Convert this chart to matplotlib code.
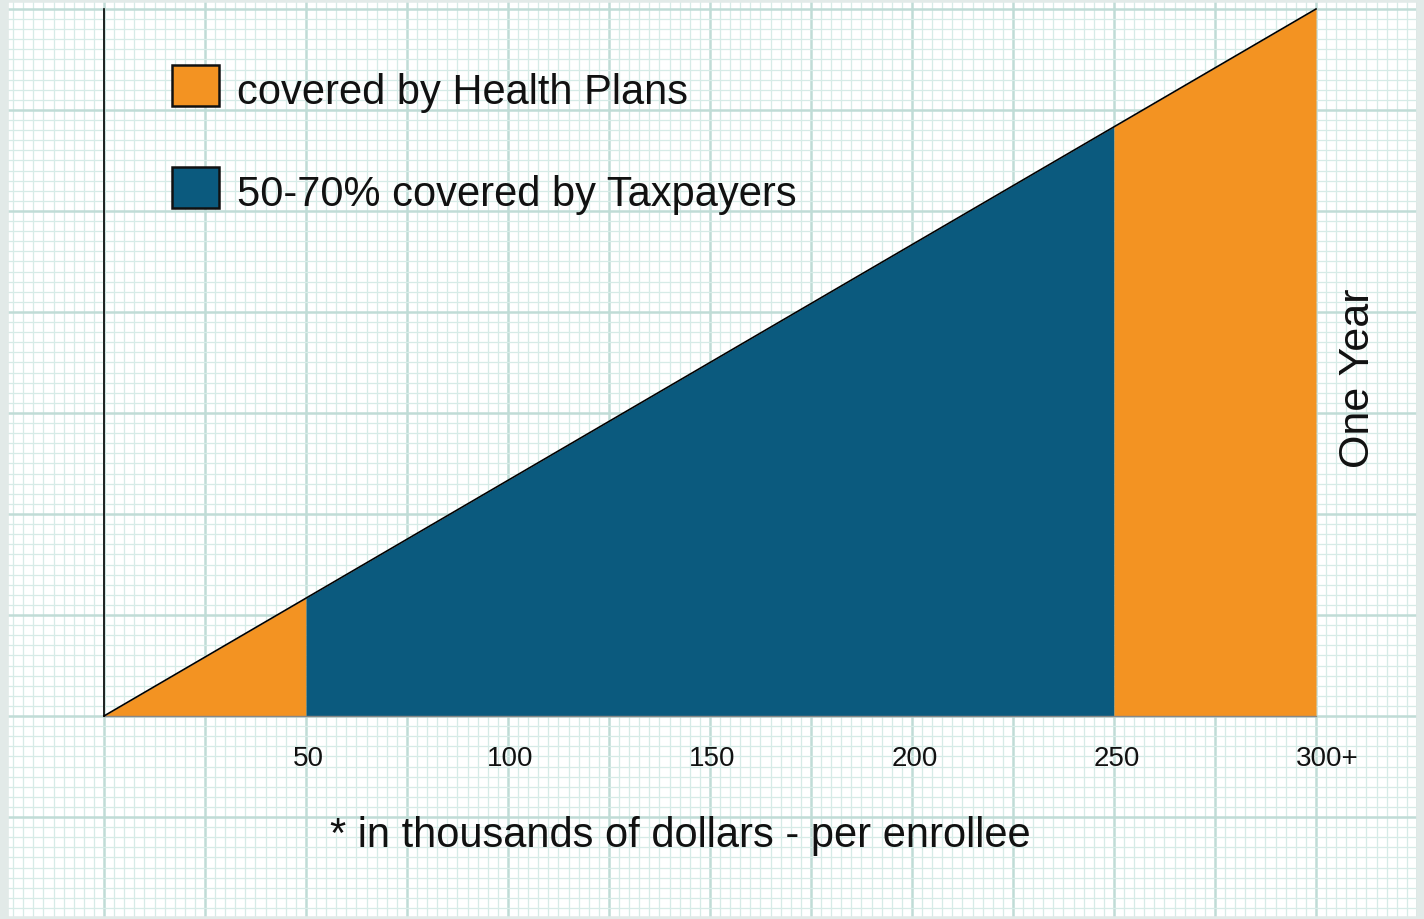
import numpy as np
import matplotlib.pyplot as plt
from matplotlib.ticker import MultipleLocator

plt.rcParams['font.family'] = ['Liberation Sans', 'DejaVu Sans']

# data
bounds = [0, 50, 250, 300]
seg_colors = ['#F39322', '#0B5A7E', '#F39322']
peak = 175
tick_vals = [50, 100, 150, 200, 250, 300]
tick_labels = ['50', '100', '150', '200', '250', '300+']
legend_labels = ['covered by Health Plans', '50-70% covered by Taxpayers']

S = 4.04  # px per unit
fig = plt.figure(figsize=(14.24, 9.19), dpi=100)
ax = fig.add_axes([0, 0, 1, 1])
ax.set_xlim(-104 / S, (1424 - 104) / S)
ax.set_ylim(-(919 - 716) / S, 716 / S)

# graph paper
ax.xaxis.set_major_locator(MultipleLocator(25))
ax.xaxis.set_minor_locator(MultipleLocator(2.5))
ax.yaxis.set_major_locator(MultipleLocator(25))
ax.yaxis.set_minor_locator(MultipleLocator(2.5))
ax.grid(which='minor', color='#d6ebe7', lw=0.9, zorder=0)
ax.grid(which='major', color='#c0dcd6', lw=1.8, zorder=0)
ax.tick_params(which='both', length=0, labelbottom=False, labelleft=False)
ax.set_axisbelow(True)
for side, sp in ax.spines.items():
    sp.set_color('#e2eae8')
    sp.set_linewidth(12 if side in ('left', 'right') else 4)

slope = peak / bounds[-1]
for i in range(len(bounds) - 1):
    xs = np.array([bounds[i], bounds[i + 1]])
    ax.fill_between(xs, 0, xs * slope, color=seg_colors[i], lw=0, zorder=2)

ax.plot([0, 300], [0, 0], color='#888888', lw=1, zorder=3)
ax.plot([0, 300], [0, peak], color='black', lw=1.2, zorder=3)
ax.plot([0, 0], [0, peak], color='black', lw=1.2, zorder=3)

for v, lab in zip(tick_vals, tick_labels):
    off = 2.7 if lab.endswith('+') else 0.6
    ax.text(v + off, -10.7, lab, ha='center', va='center', fontsize=20, color='#111111')

ax.text(142.6, -29.8, '* in thousands of dollars - per enrollee', ha='center', va='center',
        fontsize=30, color='#111111')
ax.text(310.3, 83.7, 'One Year', rotation=90, ha='center', va='center', fontsize=31, color='#111111')

# legend
for j, lab in enumerate(legend_labels):
    ybox = (716 - 106 - j * 102) / S
    ax.add_patch(plt.Rectangle((68 / S, ybox), 47 / S, 41 / S, facecolor=seg_colors[j],
                               edgecolor='#111111', lw=1.8, zorder=4))
    ax.text(133 / S, ybox + 13 / S, lab, ha='left', va='center', fontsize=30, color='#111111')

fig.savefig('out.png', dpi=100)
